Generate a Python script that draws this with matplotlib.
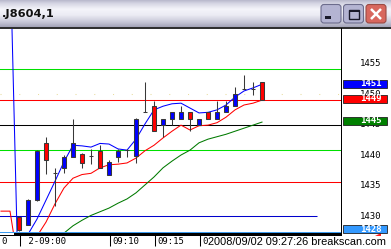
import numpy as np
import matplotlib
matplotlib.use("Agg")
import matplotlib.pyplot as plt
from matplotlib.patches import Rectangle, FancyBboxPatch, Polygon
from matplotlib.transforms import blended_transform_factory

# 1-minute bars 09:00 .. 09:27
opens = [1429.9, 1428.6, 1432.6, 1441.9, 1437.0, 1437.8, 1439.7, 1440.2, 1439.9, 1440.7,
         1436.8, 1439.7, 1440.8, 1439.8, 1447.1, 1448.0, 1444.9, 1445.9, 1445.9, 1447.0,
         1444.9, 1447.0, 1445.9, 1447.0, 1448.0, 1450.9, 1450.8, 1451.9]
highs = [1430.0, 1432.8, 1440.8, 1442.9, 1437.8, 1440.0, 1445.9, 1440.3, 1441.0, 1441.6,
         1439.2, 1441.0, 1441.0, 1446.0, 1451.9, 1448.9, 1445.9, 1447.0, 1448.0, 1447.0,
         1445.9, 1447.0, 1448.9, 1448.9, 1451.1, 1453.2, 1451.9, 1451.9]
lows = [1427.5, 1428.5, 1432.5, 1436.9, 1431.6, 1437.0, 1439.6, 1437.8, 1438.6, 1437.8,
        1436.8, 1438.9, 1439.7, 1438.7, 1447.1, 1443.9, 1442.9, 1444.9, 1445.9, 1443.9,
        1444.9, 1445.9, 1445.9, 1447.0, 1448.0, 1450.9, 1449.9, 1449.0]
closes = [1427.7, 1432.7, 1440.7, 1439.2, 1437.0, 1439.7, 1442.0, 1438.7, 1439.9, 1437.8,
          1438.9, 1440.7, 1440.8, 1445.9, 1447.1, 1443.9, 1445.9, 1447.0, 1447.0, 1445.9,
          1445.9, 1445.9, 1447.0, 1448.0, 1450.0, 1450.9, 1450.8, 1449.0]

# moving averages, first two values are the two bars before 09:00
ma_blue = [1480, 1474, 1414, 1427.0, 1429.5, 1432.6, 1435.7, 1438.9, 1441.6, 1441.5,
           1441.3, 1441.9, 1441.8, 1441.0, 1440.8, 1442.6, 1445.1, 1447.4, 1448.0, 1448.4,
           1448.5, 1447.7, 1446.9, 1447.0, 1447.4, 1448.2, 1449.5, 1450.5, 1451.0, 1451.6]
ma_red = [1430.8, 1430.8, 1421.5, 1424.0, 1426.7, 1429.0, 1432.0, 1434.6, 1436.2, 1436.8,
          1437.0, 1437.9, 1438.4, 1438.5, 1438.7, 1439.5, 1440.7, 1441.6, 1442.8, 1443.9,
          1444.9, 1444.1, 1444.8, 1444.9, 1445.3, 1446.2, 1447.4, 1448.2, 1448.5, 1449.0]
ma_green = [1418, 1419, 1420, 1421, 1422.5, 1424, 1425.5, 1427.2, 1428.4, 1429.3,
            1430.1, 1430.7, 1431.3, 1432.1, 1432.8, 1433.8, 1435.1, 1436.4, 1437.9, 1439.0,
            1440.0, 1440.8, 1442.0, 1442.6, 1443.0, 1443.4, 1443.9, 1444.4, 1444.9, 1445.4]

green_levels = [1454.1, 1440.8]
red_levels = [1449.0, 1435.5]
black_levels = [1445.0]
blue_level = 1430.0
grid_levels = [1450]

y_ticks = [1455, 1450, 1445, 1440, 1435, 1430]
time_ticks = [0, 10, 15, 20]
time_labels = [' 2-09:00', '09:10', '09:15', '09:20']

marker_values = [1451.7, 1449.2, 1445.6, 1427.8]
marker_texts = ['1451', '1449', '1445', '1428']
marker_colors = ['#0000ff', '#ff0000', '#008000', '#3399ff']

title = '.J8604,1'
stamp = '2008/09/02 09:27:26 breakscan.com'

W, H = 391, 249
YLIM = (1427.38, 1460.66)

fig = plt.figure(figsize=(W / 100, H / 100), dpi=100)
fig.patch.set_facecolor('white')

# pixel-space background layer
bg = fig.add_axes([0, 0, 1, 1], zorder=0)
bg.set_xlim(0, W)
bg.set_ylim(H, 0)
bg.axis('off')

# title bar gradient
stops_y = [0, 3, 9, 15, 22, 27]
stops_c = ['#b8b8cc', '#d4d4e2', '#f4f4fa', '#ececf4', '#c8c8d8', '#a4a4b8']
rgb = np.array([matplotlib.colors.to_rgb(s) for s in stops_c])
yy = np.linspace(0, 27, 60)
grad = np.stack([np.interp(yy, stops_y, rgb[:, k]) for k in range(3)], axis=-1)
bg.imshow(grad[:, None, :].repeat(4, axis=1), extent=(0, W, 27, 0), aspect='auto',
          interpolation='bilinear')
bg.add_patch(Rectangle((0, 27), W, 2, color='#303030', lw=0))
bg.text(1.5, 14, title, fontsize=8.2, fontweight='bold', va='center', ha='left',
        family='DejaVu Sans', color='#101010')

# window buttons
for x0, fc, ec in [(321, '#b4b4d2', '#6c6c8c'), (343.5, '#b4b4d2', '#6c6c8c'),
                   (366, '#d8675e', '#9a4a44')]:
    bg.add_patch(FancyBboxPatch((x0, 4.5), 20, 18.5, boxstyle='round,pad=0,rounding_size=3',
                                fc=fc, ec=ec, lw=0.8))
bg.add_patch(Rectangle((324.5, 16), 6, 2.5, color='#1a1a2a', lw=0))
bg.add_patch(Rectangle((348.5, 9.5), 10, 9, fill=False, ec='#1a1a2a', lw=1.0))
bg.add_patch(Rectangle((348.5, 9.5), 10, 2, color='#1a1a2a', lw=0))
bg.plot([371, 381], [9, 19], color='white', lw=1.8, solid_capstyle='butt')
bg.plot([381, 371], [9, 19], color='white', lw=1.8, solid_capstyle='butt')

# bottom strip
bg.add_patch(Rectangle((0, 231.8), 341.5, 1.2, color='#3c9cf0', lw=0))
bg.add_patch(Rectangle((0, 233), 342, 3, color='black', lw=0))
bg.add_patch(Rectangle((0, 233), 14, 1.6, color='white', lw=0))
bg.add_patch(Rectangle((341, 28), 1.2, 208, color='black', lw=0))
bg.add_patch(Polygon([(375, 236), (380.5, 236), (380.5, 232.5)], color='#ff2020', lw=0))

# main price panel
ax = fig.add_axes([0, (H - 232) / H, 341 / W, 203 / H], zorder=1)
ax.set_facecolor('white')
ax.set_xlim(-19 / 9, 322 / 9)
ax.set_ylim(*YLIM)
for s in ax.spines.values():
    s.set_visible(False)
ax.set_xticks([])
ax.set_yticks([])

for g in grid_levels:
    ax.axhline(g, color='#e8dca0', lw=0.75, ls=(0, (1, 17)), zorder=1)
for g in green_levels:
    ax.axhline(g, color='#00e000', lw=0.75, zorder=2)
for r in red_levels:
    ax.axhline(r, color='#ff0000', lw=0.75, zorder=2)
for b in black_levels:
    ax.axhline(b, color='black', lw=0.75, zorder=2)
ax.hlines(blue_level, -3, 33.1, color='#0000cc', lw=0.75, zorder=2)

mx = np.arange(-2, len(opens))
ax.plot(mx, ma_green, color='#007a00', lw=0.75, zorder=3)
ax.plot(mx, ma_red, color='#ff0000', lw=0.75, zorder=3)
ax.plot(mx, ma_blue, color='#0000ff', lw=0.75, zorder=3)

x = np.arange(len(opens))
o, h, l, c = (np.array(v, dtype=float) for v in (opens, highs, lows, closes))
up, dn, fl = c > o, c < o, np.isclose(c, o)
edge = '#383838'
ax.vlines(x, l, h, color=edge, lw=0.75, zorder=4)
ax.bar(x[up], (c - o)[up], bottom=o[up], width=0.5, color='#0000ff', edgecolor=edge,
       lw=0.75, zorder=5)
ax.bar(x[dn], (o - c)[dn], bottom=c[dn], width=0.5, color='#ff0000', edgecolor=edge,
       lw=0.75, zorder=5)
ax.hlines(o[fl], x[fl] - 0.27, x[fl] + 0.27, color=edge, lw=0.75, zorder=5)

# right price scale
ax2 = fig.add_axes([342.2 / W, (H - 232) / H, (W - 342.2) / W, 203 / H], zorder=1)
ax2.set_facecolor('white')
ax2.set_xlim(342.2, W)
ax2.set_ylim(*YLIM)
ax2.axis('off')
for t in y_ticks:
    ax2.text(381.8, t, str(t), fontsize=6.5, family='DejaVu Sans Mono', ha='right',
             va='center', color='black', zorder=2)
for v, s, col in zip(marker_values, marker_texts, marker_colors):
    ax2.add_patch(Rectangle((342.6, v - 0.65), 44.2, 1.3, fc=col, ec='#202020', lw=0.6,
                            zorder=3, clip_on=False))
    ax2.text(381.8, v, s, fontsize=6.5, family='DejaVu Sans Mono', fontweight='bold',
             ha='right', va='center', color='white', zorder=4, clip_on=False)

# time axis labels
trans = blended_transform_factory(ax.transData, bg.transData)
bg.vlines(np.array(time_ticks) + 1 / 9, 235, 245.5, transform=trans, color='black', lw=0.75)
for t, s in zip(time_ticks, time_labels):
    bg.text(t + 0.4, 241.5, s, transform=trans, fontsize=6.5, family='DejaVu Sans Mono',
            ha='left', va='center', color='black')
bg.text(1.5, 241.5, '0', fontsize=6.5, family='DejaVu Sans Mono', ha='left', va='center')
bg.text(208.5, 242, stamp, fontsize=7.95, family='Liberation Sans',
        ha='left', va='center', color='black',
        bbox=dict(fc='white', ec='none', pad=0.3))

fig.savefig('out.png', dpi=100)
